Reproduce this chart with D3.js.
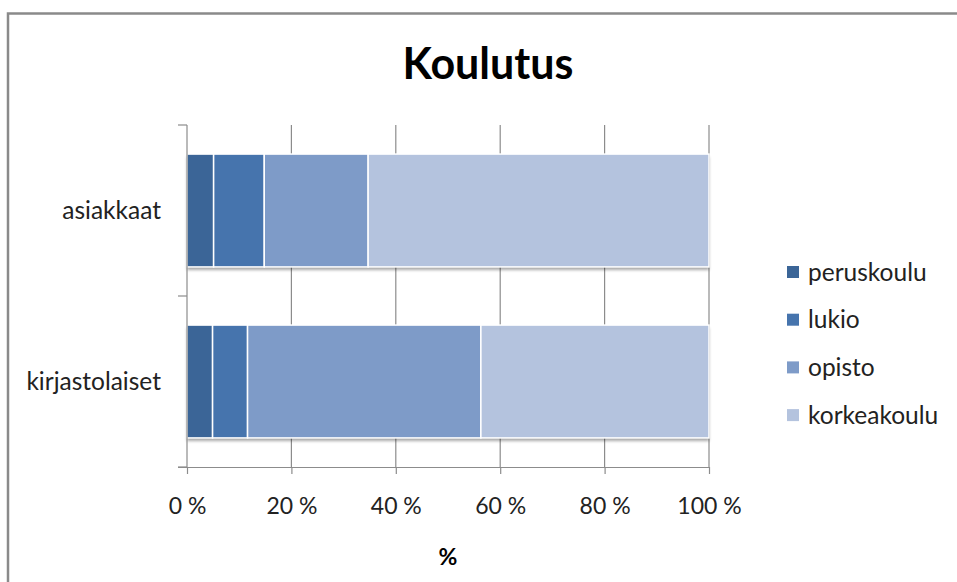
<!DOCTYPE html>
<html><head><meta charset="utf-8">
<script src="https://cdn.jsdelivr.net/npm/d3@7"></script>
<style>
html,body{margin:0;padding:0;background:#fff;}
svg{display:block;font-family:Lato, "Open Sans", sans-serif;}
</style></head>
<body><svg id="chart" width="957" height="582"></svg>
<script>
const categories = ["asiakkaat", "kirjastolaiset"];
const seriesNames = ["peruskoulu", "lukio", "opisto", "korkeakoulu"];
const peruskoulu = [5.1, 4.9];
const lukio = [9.7, 6.7];
const opisto = [19.9, 44.7];
const korkeakoulu = [65.3, 43.7];
const seriesValues = [peruskoulu, lukio, opisto, korkeakoulu];
const colors = ["#3b6597", "#4674ad", "#7e9bc8", "#b4c3de"];
const tickValues = [0, 20, 40, 60, 80, 100];
const chartTitle = "Koulutus";
const xTitle = "%";

const svg = d3.select("#chart");
const defs = svg.append("defs");
const f = defs.append("filter").attr("id","sh").attr("x","-5%").attr("y","-10%").attr("width","110%").attr("height","130%");
f.append("feDropShadow").attr("dx",0).attr("dy",3).attr("stdDeviation",1.6).attr("flood-color","#000").attr("flood-opacity",0.35);

// outer frame
svg.append("path").attr("d","M8,582 L8,13.5 L957,13.5").attr("fill","none").attr("stroke","#8a8a8a").attr("stroke-width",2.5);

const pLeft = 187, pRight = 709, pTop = 125, pBottom = 467;
const x = d3.scaleLinear().domain([0,100]).range([pLeft,pRight]);
const y = d3.scaleBand().domain(categories).range([pTop,pBottom]).paddingInner(0.34).paddingOuter(0.17);

// gridlines
svg.append("g").selectAll("line").data(tickValues.filter(v=>v>0)).join("line")
  .attr("x1",d=>x(d)).attr("x2",d=>x(d)).attr("y1",pTop).attr("y2",pBottom)
  .attr("stroke","#8c8c8c").attr("stroke-width",1.2);

// stacked data
const rows = categories.map((c,i)=>{const o={cat:c}; seriesNames.forEach((s,j)=>o[s]=seriesValues[j][i]); return o;});
const stacked = d3.stack().keys(seriesNames)(rows);

const bars = svg.append("g");
categories.forEach((c,i)=>{
  bars.append("rect").attr("x",x(0)).attr("y",y(c)).attr("width",x(100)-x(0)).attr("height",y.bandwidth())
    .attr("fill","#fff").attr("filter","url(#sh)");
});
stacked.forEach((layer,j)=>{
  bars.append("g").selectAll("rect").data(layer).join("rect")
    .attr("x",d=>x(d[0])).attr("width",d=>x(d[1])-x(d[0]))
    .attr("y",d=>y(d.data.cat)).attr("height",y.bandwidth())
    .attr("fill",colors[j]).attr("stroke","#fff").attr("stroke-width",1.5);
});

// x axis
const xAxis = d3.axisBottom(x).tickValues(tickValues).tickFormat(d=>d+" %").tickSize(7).tickPadding(24);
const gx = svg.append("g").attr("transform",`translate(0,${pBottom})`).call(xAxis);
gx.select(".domain").attr("d",`M${pLeft-9},0.5H${pRight}`).attr("stroke","#8c8c8c").attr("stroke-width",1.2);
gx.selectAll(".tick line").attr("stroke","#8c8c8c").attr("stroke-width",1.2);
gx.selectAll(".tick text").attr("font-size",23).attr("fill","#222").attr("font-family","Lato, sans-serif");

// y axis line and category boundary ticks
const gy = svg.append("g");
gy.append("line").attr("x1",pLeft).attr("x2",pLeft).attr("y1",pTop).attr("y2",pBottom).attr("stroke","#8c8c8c").attr("stroke-width",1.2);
const bounds = [pTop, (y(categories[0])+y.bandwidth()+y(categories[1]))/2, pBottom];
gy.selectAll("line.b").data(bounds).join("line").attr("class","b")
  .attr("x1",pLeft-9).attr("x2",pLeft).attr("y1",d=>d).attr("y2",d=>d).attr("stroke","#8c8c8c").attr("stroke-width",1.2);
gy.selectAll("text").data(categories).join("text")
  .attr("x",161).attr("y",d=>y(d)+y.bandwidth()/2).attr("dy","0.35em")
  .attr("text-anchor","end").attr("font-size",24.5).attr("fill","#222").text(d=>d);

// title
svg.append("text").attr("x",488).attr("y",79).attr("text-anchor","middle")
  .attr("font-size",43).attr("font-weight","bold").attr("fill","#000").text(chartTitle);
svg.append("text").attr("x",(pLeft+pRight)/2).attr("y",565).attr("text-anchor","middle")
  .attr("font-size",23).attr("font-weight","bold").attr("fill","#000").text(xTitle);

// legend
const lg = svg.append("g");
seriesNames.forEach((s,j)=>{
  const cy = 272 + j*47.7;
  lg.append("rect").attr("x",787).attr("y",cy-6).attr("width",12).attr("height",12).attr("fill",colors[j]);
  lg.append("text").attr("x",808).attr("y",cy).attr("dy","0.35em").attr("font-size",24.5).attr("fill","#222").text(s);
});
</script></body></html>
